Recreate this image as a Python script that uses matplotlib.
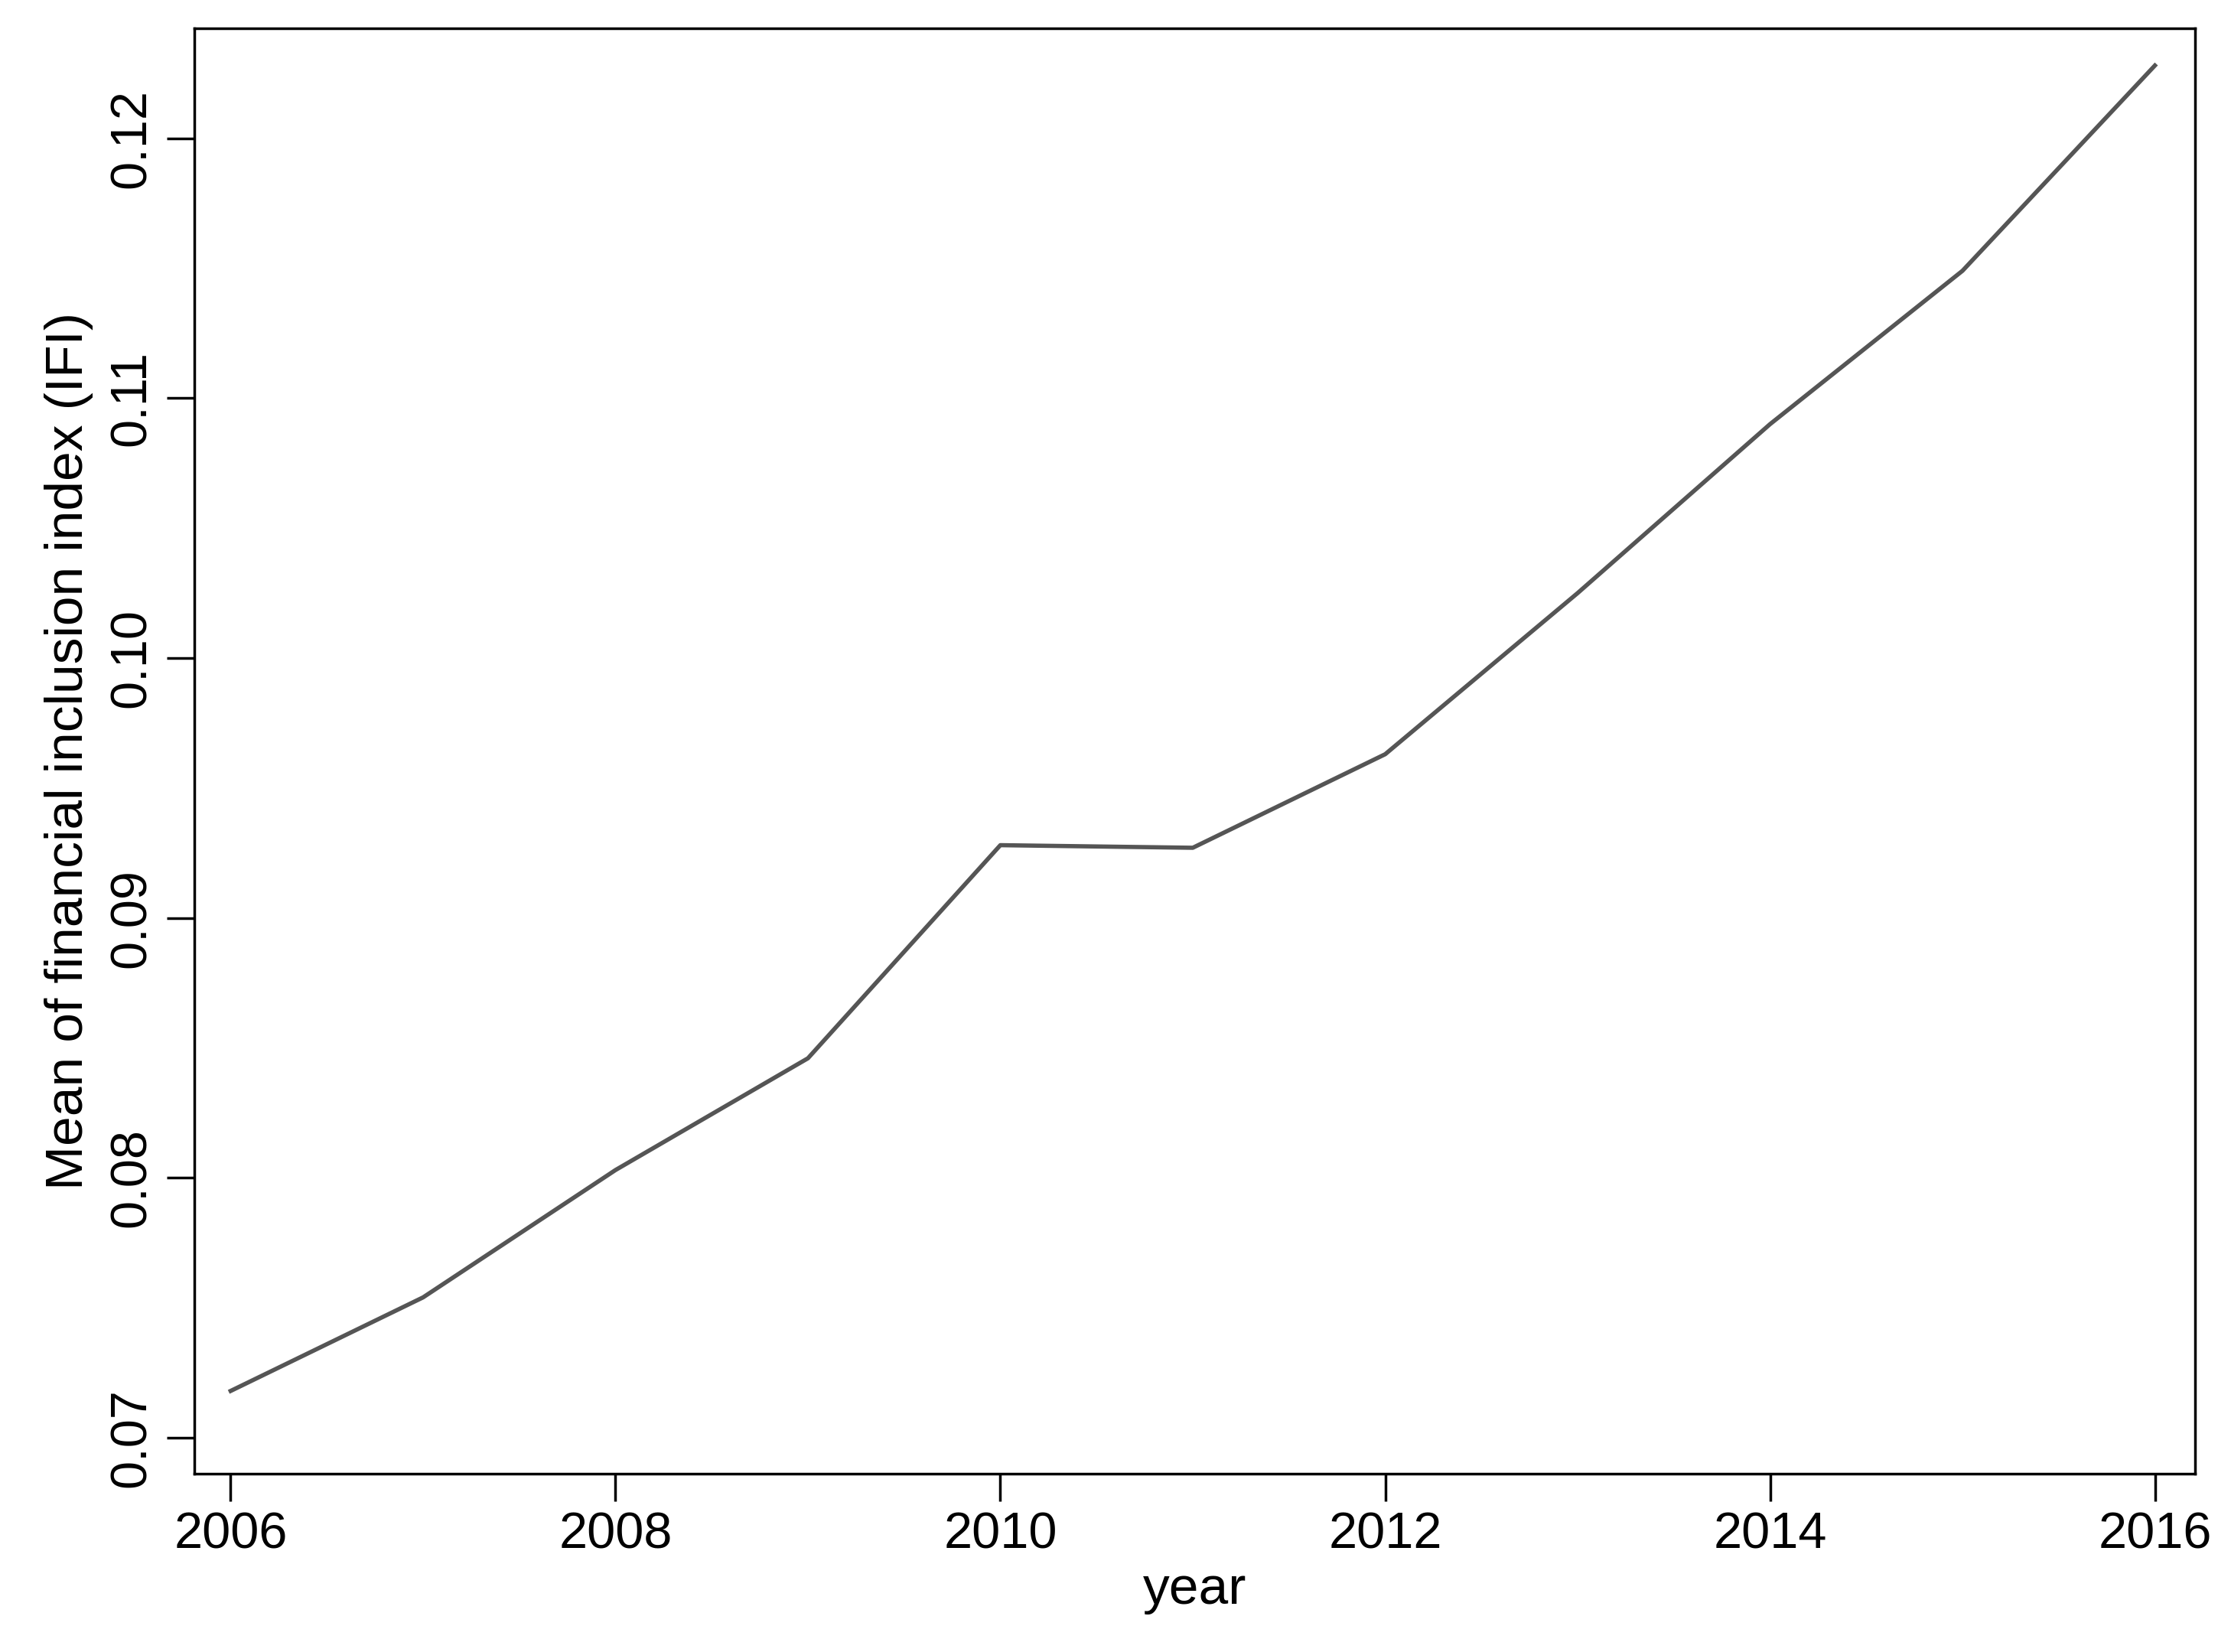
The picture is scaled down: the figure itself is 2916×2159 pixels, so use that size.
import matplotlib
matplotlib.use("Agg")
import matplotlib.pyplot as plt

years = [2006, 2007, 2008, 2009, 2010, 2011, 2012, 2013, 2014, 2015, 2016]
ifi_mean = [0.0718, 0.0754, 0.0803, 0.0846, 0.0928, 0.0927, 0.0963, 0.1025, 0.1090, 0.1149, 0.1228]
x_ticks = [2006, 2008, 2010, 2012, 2014, 2016]
y_ticks = [0.07, 0.08, 0.09, 0.10, 0.11, 0.12]
y_labels = ["0.07", "0.08", "0.09", "0.10", "0.11", "0.12"]

plt.rcParams['font.family'] = ['Liberation Sans', 'DejaVu Sans']

fig = plt.figure(figsize=(29.16, 21.59), dpi=100)
ax = fig.add_axes([0.087, 0.108, 0.897, 0.875])
ax.plot(years, ifi_mean, color='#555555', linewidth=4)

ax.set_xlim(2005.81, 2016.21)
ax.set_ylim(0.06862, 0.12424)
ax.set_xticks(x_ticks)
ax.set_yticks(y_ticks)
ax.set_yticklabels(y_labels, rotation=90, va='center')
ax.tick_params(axis='both', labelsize=48, length=26, width=2.5, pad=10)
for s in ax.spines.values():
    s.set_linewidth(2.5)

ax.set_xlabel("year", fontsize=50, labelpad=6)
ax.set_ylabel("Mean of financial inclusion index (IFI)", fontsize=50, labelpad=14)

fig.savefig("out.png", dpi=100)
